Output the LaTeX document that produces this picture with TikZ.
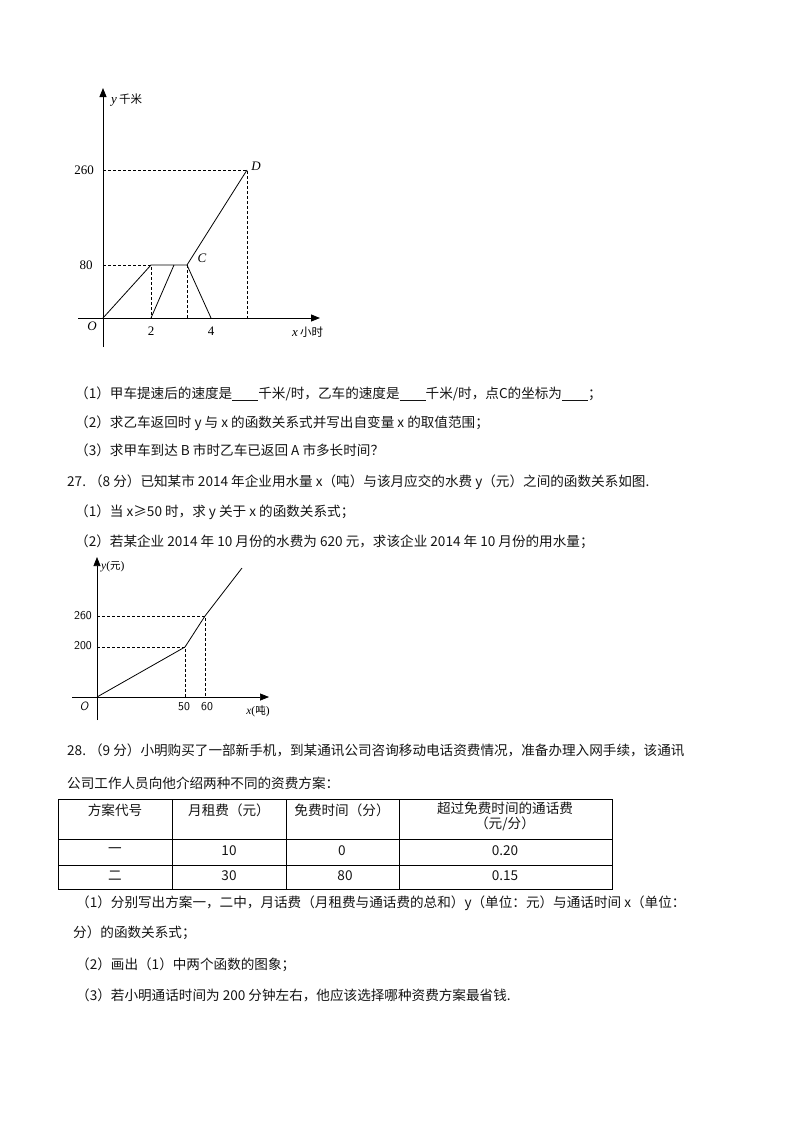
\documentclass[tikz,border=0pt]{standalone}
\usepackage{fontspec}
\setmainfont{Liberation Serif}
\newfontfamily\cjk{Noto Sans CJK SC}
\usetikzlibrary{arrows.meta,positioning}
\definecolor{pagegray}{RGB}{20,20,20}
\tikzset{
  txt/.style={anchor=west, inner sep=0pt, font=\cjk\fontsize{13.6}{14}\selectfont, text=pagegray},
  lbl/.style={inner sep=0pt, font=\fontsize{13}{13}\selectfont},
  lblsm/.style={inner sep=0pt, font=\fontsize{11.5}{12}\selectfont},
  axis/.style={-{Triangle[length=9pt,width=7pt]}, line width=0.9pt},
  graph/.style={line width=0.8pt},
  guide/.style={dashed, line width=0.7pt, dash pattern=on 3pt off 2pt},
  cell/.style={inner sep=0pt, font=\cjk\fontsize{13.6}{15}\selectfont, text=pagegray, align=center}
}
\newcommand{\blank}{\rule[-2pt]{26pt}{0.6pt}}
\begin{document}
\begin{tikzpicture}[x=1pt,y=-1pt]
\useasboundingbox (0,0) rectangle (800,1132);
% --- Graph 1: distance / time ---
\coordinate (o1) at (103,318);
\draw[axis] (103,347) -- (103,88) coordinate (y1top);
\draw[axis] (78,318) -- (320,318) coordinate (x1end);
\coordinate (a1) at (151,265);
\coordinate (b1) at (174,265);
\coordinate (c1) at (187,265);
\coordinate (d1) at (247,170);
\coordinate (t2) at (151,318);
\coordinate (t4) at (211,318);
\draw[guide] (103,170) -- (d1) -- (247,318);
\draw[guide] (103,265) -- (a1) -- (t2);
\draw[guide] (c1) -- (187,318);
\draw[graph] (o1) -- (a1) -- (c1) -- (d1);
\draw[graph] (t2) -- (b1);
\draw[graph] (c1) -- (t4);
\node[lbl, anchor=west] (ylab1) at (111,100) {\textit{y}\,{\cjk\fontsize{11.5}{11}\selectfont 千米}};
\node[lbl] (n260a) at (84,170) {260};
\node[lbl] (n80a) at (86,265) {80};
\node[lbl] (o1lab) at (92,326) {\textit{O}};
\node[lbl] (n2a) at (151,331) {2};
\node[lbl] (n4a) at (211,331) {4};
\node[lbl, anchor=west] (xlab1) at (292,332) {\textit{x}\,{\cjk\fontsize{11.5}{11}\selectfont 小时}};
\node[lbl] (clab) at (202,258) {\textit{C}};
\node[lbl] (dlab) at (256,166) {\textit{D}};
% --- Questions 26 ---
\node[txt] (q1) at (75,394) {（1）甲车提速后的速度是\blank 千米/时，乙车的速度是\blank 千米/时，点C的坐标为\blank ；};
\node[txt] (q2) at (75,423) {（2）求乙车返回时 y 与 x 的函数关系式并写出自变量 x 的取值范围；};
\node[txt] (q3) at (75,450) {（3）求甲车到达 B 市时乙车已返回 A 市多长时间？};
% --- Question 27 ---
\node[txt] (p27) at (67,482) {27.\ （8 分）已知某市 2014 年企业用水量 x（吨）与该月应交的水费 y（元）之间的函数关系如图.};
\node[txt] (p27a) at (75,512) {（1）当 x≥50 时，求 y 关于 x 的函数关系式；};
\node[txt] (p27b) at (75,542) {（2）若某企业 2014 年 10 月份的水费为 620 元，求该企业 2014 年 10 月份的用水量；};
% --- Graph 2: water fee ---
\coordinate (o2) at (97,697);
\draw[axis, line width=0.7pt] (97,720) -- (97,557);
\draw[axis, line width=0.7pt] (72,697) -- (269,697);
\coordinate (e2) at (185,647);
\coordinate (f2) at (205,616);
\draw[guide] (97,647) -- (e2) -- (185,697);
\draw[guide] (97,616) -- (f2) -- (205,697);
\draw[graph] (o2) -- (e2) -- (f2) -- (242,568);
\node[lblsm, anchor=west] (ylab2) at (101,567) {\textit{y}({\cjk\fontsize{10.5}{10}\selectfont 元})};
\node[lblsm, font=\sffamily\fontsize{12}{12}\selectfont] (n260b) at (83,616) {260};
\node[lblsm, font=\sffamily\fontsize{12}{12}\selectfont] (n200b) at (83,646) {200};
\node[lblsm, font=\sffamily\itshape\fontsize{12}{12}\selectfont] (o2lab) at (84,706) {O};
\node[lblsm, font=\sffamily\fontsize{12}{12}\selectfont] (n50) at (184,707) {50};
\node[lblsm, font=\sffamily\fontsize{12}{12}\selectfont] (n60) at (207,707) {60};
\node[lblsm] (xlab2) at (258,711) {\textit{x}({\cjk\fontsize{10.5}{10}\selectfont 吨})};
% --- Question 28 ---
\node[txt] (p28) at (67,750) {28.\ （9 分）小明购买了一部新手机，到某通讯公司咨询移动电话资费情况，准备办理入网手续，该通讯};
\node[txt] (p28b) at (67,783) {公司工作人员向他介绍两种不同的资费方案：};
% table
\draw[line width=0.8pt] (58,799) rectangle (612,889);
\foreach \cx in {172,286,399}
  \draw[line width=0.8pt] (\cx,799) -- (\cx,889);
\draw[line width=0.8pt] (58,839) -- (612,839);
\draw[line width=0.8pt] (58,865) -- (612,865);
\node[cell] (h1) at (115,810) {方案代号};
\node[cell] (h2) at (229,810) {月租费（元）};
\node[cell] (h3) at (342,810) {免费时间（分）};
\node[cell, anchor=north] (h4) at (505,802) {超过免费时间的通话费\\（元/分）};
\node[cell] (r11) at (115,851) {一};
\node[cell] (r12) at (229,851) {10};
\node[cell] (r13) at (342,851) {0};
\node[cell] (r14) at (505,851) {0.20};
\node[cell] (r21) at (115,876) {二};
\node[cell] (r22) at (229,876) {30};
\node[cell] (r23) at (345,876) {80};
\node[cell] (r24) at (505,876) {0.15};
\node[txt] (p28c) at (76,903) {（1）分别写出方案一，二中，月话费（月租费与通话费的总和）y（单位：元）与通话时间 x（单位：};
\node[txt] (p28d) at (73,933) {分）的函数关系式；};
\node[txt] (p28e) at (76,965) {（2）画出（1）中两个函数的图象；};
\node[txt] (p28f) at (76,995) {（3）若小明通话时间为 200 分钟左右，他应该选择哪种资费方案最省钱.};
\end{tikzpicture}
\end{document}
